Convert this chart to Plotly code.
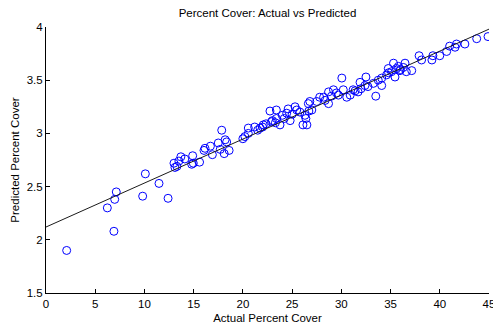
import plotly.graph_objects as go

# Observed vs. model-predicted percent cover
actual = [
    2.1, 6.23, 6.98, 7.14, 6.9, 9.82, 10.09, 11.48, 12.4,
    13.0, 13.3, 13.1, 13.7, 14.1, 14.9, 14.96, 14.8, 15.6, 13.5,
    16.05, 16.15, 16.7, 16.9, 17.5, 17.85, 17.7, 18.2, 18.35, 18.1, 18.6,
    20.0, 20.55, 20.55, 20.2,
    21.74, 22.07, 22.35, 22.75, 22.9, 23.4, 23.4, 23.77, 24.0, 24.45, 24.6, 24.8,
    25.3, 25.47, 26.1, 26.5, 26.3, 26.65, 26.8, 27.0,
    21.2, 21.5, 22.0, 23.0, 23.3, 24.2, 25.0, 25.8, 26.4, 26.7,
    27.8, 28.2, 28.35, 28.7, 28.7, 29.2, 29.7, 30.05, 30.2, 30.55, 30.9, 31.2,
    31.7, 31.9, 32.4, 32.5, 32.7, 33.25, 33.5, 33.75, 34.1, 34.1, 34.6, 34.77,
    35.1, 35.3, 35.45, 35.6, 35.96, 36.3, 36.47, 36.6, 37.15, 37.9, 38.15,
    39.2, 39.3, 40.0, 40.7, 41.0, 41.55, 41.7, 42.55, 43.75, 44.9,
    27.5, 29.0, 29.5, 31.4, 32.0, 34.8, 35.8, 36.0,
]
predicted = [
    1.90, 2.30, 2.38, 2.45, 2.08, 2.41, 2.62, 2.53, 2.39,
    2.72, 2.69, 2.68, 2.78, 2.76, 2.79, 2.72, 2.71, 2.73, 2.74,
    2.84, 2.86, 2.88, 2.80, 2.91, 3.03, 2.85, 2.94, 2.92, 2.81, 2.84,
    2.95, 3.05, 3.00, 2.97,
    3.05, 3.08, 3.09, 3.21, 3.11, 3.22, 3.14, 3.08, 3.17, 3.19, 3.23, 3.12,
    3.25, 3.22, 3.08, 3.08, 3.17, 3.28, 3.30, 3.22,
    3.06, 3.03, 3.06, 3.12, 3.10, 3.14, 3.18, 3.20, 3.14, 3.21,
    3.34, 3.34, 3.31, 3.28, 3.39, 3.41, 3.36, 3.52, 3.41, 3.34, 3.36, 3.41,
    3.39, 3.48, 3.45, 3.53, 3.44, 3.47, 3.35, 3.50, 3.45, 3.52, 3.55, 3.61,
    3.58, 3.66, 3.53, 3.61, 3.59, 3.62, 3.66, 3.58, 3.59, 3.73, 3.69,
    3.69, 3.73, 3.73, 3.77, 3.82, 3.81, 3.84, 3.84, 3.89, 3.91,
    3.30, 3.35, 3.38, 3.40, 3.42, 3.57, 3.63, 3.60,
]

# Least-squares fit line endpoints
fit_x = [0, 45]
fit_y = [2.12, 3.98]

x_ticks = [0, 5, 10, 15, 20, 25, 30, 35, 40, 45]
y_ticks = [1.5, 2, 2.5, 3, 3.5, 4]

font = dict(family="Liberation Sans, Arial, sans-serif", size=11.5, color="black")

fig = go.Figure()
fig.add_trace(go.Scatter(
    x=actual, y=predicted, mode="markers",
    marker=dict(symbol="circle-open", size=8, color="#0000ff", line=dict(width=1, color="#0000ff")),
    showlegend=False, hoverinfo="skip",
))
fig.add_trace(go.Scatter(
    x=fit_x, y=fit_y, mode="lines",
    line=dict(color="#1a1a1a", width=1),
    showlegend=False, hoverinfo="skip",
))

axis_common = dict(
    showgrid=False, zeroline=False, showline=True, linecolor="black", linewidth=1,
    ticks="inside", ticklen=4, tickcolor="black", tickfont=font,
    ticklabeloverflow="allow", automargin=False,
)
fig.update_layout(
    width=493, height=329,
    margin=dict(l=46, r=4, t=27, b=36),
    paper_bgcolor="white", plot_bgcolor="white",
    font=font,
    title=dict(text="Percent Cover: Actual vs Predicted", xref="paper", x=0.5, xanchor="center",
               y=1 - 13 / 329, yanchor="middle", font=font, automargin=False),
    xaxis=dict(range=[0, 45], tickvals=x_ticks, ticktext=[str(v) for v in x_ticks],
               title=dict(text="Actual Percent Cover", font=font, standoff=5), **axis_common),
    yaxis=dict(range=[1.5, 4], tickvals=y_ticks, ticktext=[f"{v:g}" for v in y_ticks],
               title=dict(text="Predicted Percent Cover", font=font, standoff=4), **axis_common),
)

fig.write_html("out.html")
